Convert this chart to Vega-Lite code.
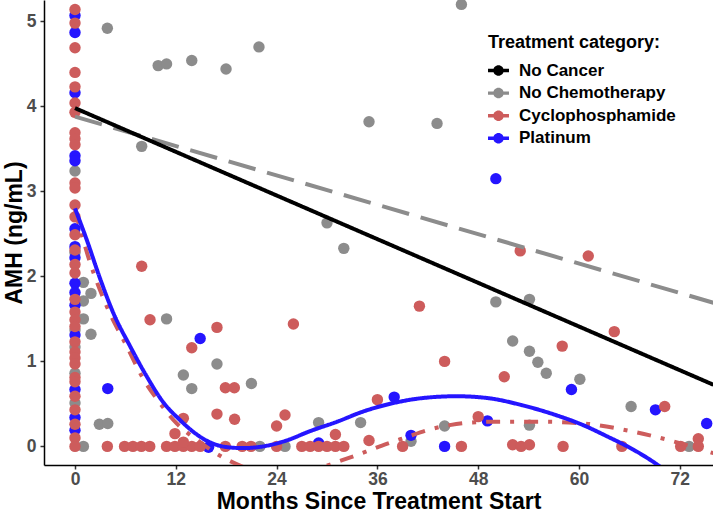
{
  "$schema": "https://vega.github.io/schema/vega-lite/v6.json",
  "width": 669,
  "height": 465,
  "autosize": {"type": "none"},
  "padding": {"left": 44, "top": 0, "right": 0, "bottom": 50},
  "background": "white",
  "config": {
    "view": {"stroke": null},
    "font": "Liberation Sans",
    "axis": {
      "grid": false,
      "domainColor": "black",
      "domainWidth": 1.5,
      "tickColor": "#333333",
      "tickWidth": 1.5,
      "tickSize": 4,
      "labelFont": "Liberation Sans",
      "labelFontWeight": "bold",
      "labelFontSize": 17.5,
      "labelColor": "#4d4d4d",
      "labelFlush": false,
      "titleFont": "Liberation Sans",
      "titleFontWeight": "bold",
      "titleFontSize": 23,
      "titleColor": "black"
    },
    "legend": {
      "orient": "none",
      "legendX": 444,
      "legendY": 34,
      "titleFont": "Liberation Sans",
      "titleFontSize": 18,
      "titleFontWeight": "bold",
      "titleColor": "black",
      "titlePadding": 8,
      "labelFont": "Liberation Sans",
      "labelFontSize": 17,
      "labelFontWeight": "bold",
      "labelColor": "black",
      "labelOffset": 10,
      "rowPadding": 3.6,
      "symbolType": "M -1 -0.16 L 1 -0.16 L 1 0.16 L -1 0.16 Z M 0.5 0 A 0.5 0.5 0 1 1 -0.5 0 A 0.5 0.5 0 1 1 0.5 0 Z",
      "symbolSize": 440,
      "symbolStrokeWidth": 0
    }
  },
  "datasets": {
    "pts": [
      {"m": 0, "amh": 3.24, "cat": "No Chemotherapy"},
      {"m": 0, "amh": 2.28, "cat": "No Chemotherapy"},
      {"m": 0, "amh": 1.37, "cat": "No Chemotherapy"},
      {"m": 0, "amh": 1.17, "cat": "No Chemotherapy"},
      {"m": 0, "amh": 0.86, "cat": "No Chemotherapy"},
      {"m": 0, "amh": 0.51, "cat": "No Chemotherapy"},
      {"m": 1, "amh": 1.93, "cat": "No Chemotherapy"},
      {"m": 1.9, "amh": 1.8, "cat": "No Chemotherapy"},
      {"m": 1, "amh": 1.71, "cat": "No Chemotherapy"},
      {"m": 1, "amh": 1.5, "cat": "No Chemotherapy"},
      {"m": 1.9, "amh": 1.32, "cat": "No Chemotherapy"},
      {"m": 1, "amh": 0, "cat": "No Chemotherapy"},
      {"m": 2.9, "amh": 0.26, "cat": "No Chemotherapy"},
      {"m": 3.9, "amh": 0.27, "cat": "No Chemotherapy"},
      {"m": 3.85, "amh": 4.92, "cat": "No Chemotherapy"},
      {"m": 7.94, "amh": 3.53, "cat": "No Chemotherapy"},
      {"m": 9.9, "amh": 4.48, "cat": "No Chemotherapy"},
      {"m": 10.9, "amh": 4.5, "cat": "No Chemotherapy"},
      {"m": 13.9, "amh": 4.54, "cat": "No Chemotherapy"},
      {"m": 17.98, "amh": 4.44, "cat": "No Chemotherapy"},
      {"m": 21.9, "amh": 4.7, "cat": "No Chemotherapy"},
      {"m": 10.9, "amh": 1.5, "cat": "No Chemotherapy"},
      {"m": 16.9, "amh": 0.97, "cat": "No Chemotherapy"},
      {"m": 12.9, "amh": 0.84, "cat": "No Chemotherapy"},
      {"m": 13.9, "amh": 0.68, "cat": "No Chemotherapy"},
      {"m": 21, "amh": 0.74, "cat": "No Chemotherapy"},
      {"m": 22, "amh": 0, "cat": "No Chemotherapy"},
      {"m": 25, "amh": 0, "cat": "No Chemotherapy"},
      {"m": 29, "amh": 0.28, "cat": "No Chemotherapy"},
      {"m": 34, "amh": 0.28, "cat": "No Chemotherapy"},
      {"m": 30, "amh": 2.63, "cat": "No Chemotherapy"},
      {"m": 32, "amh": 2.33, "cat": "No Chemotherapy"},
      {"m": 35, "amh": 3.82, "cat": "No Chemotherapy"},
      {"m": 43.1, "amh": 3.8, "cat": "No Chemotherapy"},
      {"m": 46, "amh": 5.2, "cat": "No Chemotherapy"},
      {"m": 40, "amh": 0.06, "cat": "No Chemotherapy"},
      {"m": 44, "amh": 0.24, "cat": "No Chemotherapy"},
      {"m": 50.1, "amh": 1.7, "cat": "No Chemotherapy"},
      {"m": 54.1, "amh": 1.73, "cat": "No Chemotherapy"},
      {"m": 52.1, "amh": 1.24, "cat": "No Chemotherapy"},
      {"m": 54.1, "amh": 1.12, "cat": "No Chemotherapy"},
      {"m": 55.1, "amh": 0.99, "cat": "No Chemotherapy"},
      {"m": 56.1, "amh": 0.86, "cat": "No Chemotherapy"},
      {"m": 60.1, "amh": 0.79, "cat": "No Chemotherapy"},
      {"m": 54.1, "amh": 0.25, "cat": "No Chemotherapy"},
      {"m": 66.2, "amh": 0.47, "cat": "No Chemotherapy"},
      {"m": 73.1, "amh": 0, "cat": "No Chemotherapy"},
      {"m": 0, "amh": 5.07, "cat": "Platinum"},
      {"m": 0, "amh": 4.87, "cat": "Platinum"},
      {"m": 0, "amh": 4.16, "cat": "Platinum"},
      {"m": 0, "amh": 3.42, "cat": "Platinum"},
      {"m": 0, "amh": 3.36, "cat": "Platinum"},
      {"m": 0, "amh": 2.56, "cat": "Platinum"},
      {"m": 0, "amh": 2.35, "cat": "Platinum"},
      {"m": 0, "amh": 2.22, "cat": "Platinum"},
      {"m": 0, "amh": 1.92, "cat": "Platinum"},
      {"m": 0, "amh": 1.81, "cat": "Platinum"},
      {"m": 0, "amh": 1.66, "cat": "Platinum"},
      {"m": 0, "amh": 1.31, "cat": "Platinum"},
      {"m": 0, "amh": 0.67, "cat": "Platinum"},
      {"m": 0, "amh": 0.34, "cat": "Platinum"},
      {"m": 0, "amh": 0.19, "cat": "Platinum"},
      {"m": 3.9, "amh": 0.68, "cat": "Platinum"},
      {"m": 14.9, "amh": 1.27, "cat": "Platinum"},
      {"m": 15.9, "amh": -0.01, "cat": "Platinum"},
      {"m": 29, "amh": 0.04, "cat": "Platinum"},
      {"m": 38, "amh": 0.58, "cat": "Platinum"},
      {"m": 40, "amh": 0.13, "cat": "Platinum"},
      {"m": 44, "amh": 0, "cat": "Platinum"},
      {"m": 49.1, "amh": 0.3, "cat": "Platinum"},
      {"m": 50.1, "amh": 3.15, "cat": "Platinum"},
      {"m": 59.1, "amh": 0.67, "cat": "Platinum"},
      {"m": 69.1, "amh": 0.43, "cat": "Platinum"},
      {"m": 75.2, "amh": 0.27, "cat": "Platinum"},
      {"m": 0, "amh": 5.14, "cat": "Cyclophosphamide"},
      {"m": 0, "amh": 4.98, "cat": "Cyclophosphamide"},
      {"m": 0, "amh": 4.69, "cat": "Cyclophosphamide"},
      {"m": 0, "amh": 4.4, "cat": "Cyclophosphamide"},
      {"m": 0, "amh": 4.23, "cat": "Cyclophosphamide"},
      {"m": 0, "amh": 4.04, "cat": "Cyclophosphamide"},
      {"m": 0, "amh": 3.93, "cat": "Cyclophosphamide"},
      {"m": 0, "amh": 3.69, "cat": "Cyclophosphamide"},
      {"m": 0, "amh": 3.62, "cat": "Cyclophosphamide"},
      {"m": 0, "amh": 3.55, "cat": "Cyclophosphamide"},
      {"m": 0, "amh": 3.1, "cat": "Cyclophosphamide"},
      {"m": 0, "amh": 3.04, "cat": "Cyclophosphamide"},
      {"m": 0, "amh": 2.84, "cat": "Cyclophosphamide"},
      {"m": 0, "amh": 2.7, "cat": "Cyclophosphamide"},
      {"m": 0, "amh": 2.49, "cat": "Cyclophosphamide"},
      {"m": 0, "amh": 2.31, "cat": "Cyclophosphamide"},
      {"m": 0, "amh": 2.14, "cat": "Cyclophosphamide"},
      {"m": 0, "amh": 2.04, "cat": "Cyclophosphamide"},
      {"m": 0, "amh": 1.73, "cat": "Cyclophosphamide"},
      {"m": 0, "amh": 1.58, "cat": "Cyclophosphamide"},
      {"m": 0, "amh": 1.49, "cat": "Cyclophosphamide"},
      {"m": 0, "amh": 1.41, "cat": "Cyclophosphamide"},
      {"m": 0, "amh": 1.23, "cat": "Cyclophosphamide"},
      {"m": 0, "amh": 1.11, "cat": "Cyclophosphamide"},
      {"m": 0, "amh": 1.04, "cat": "Cyclophosphamide"},
      {"m": 0, "amh": 0.97, "cat": "Cyclophosphamide"},
      {"m": 0, "amh": 0.81, "cat": "Cyclophosphamide"},
      {"m": 0, "amh": 0.76, "cat": "Cyclophosphamide"},
      {"m": 0, "amh": 0.59, "cat": "Cyclophosphamide"},
      {"m": 0, "amh": 0.43, "cat": "Cyclophosphamide"},
      {"m": 0, "amh": 0.26, "cat": "Cyclophosphamide"},
      {"m": 0, "amh": 0.1, "cat": "Cyclophosphamide"},
      {"m": 0, "amh": 0, "cat": "Cyclophosphamide"},
      {"m": 3.85, "amh": 0, "cat": "Cyclophosphamide"},
      {"m": 5.9, "amh": 0, "cat": "Cyclophosphamide"},
      {"m": 6.9, "amh": 0, "cat": "Cyclophosphamide"},
      {"m": 7.9, "amh": 0, "cat": "Cyclophosphamide"},
      {"m": 8.9, "amh": 0, "cat": "Cyclophosphamide"},
      {"m": 10.9, "amh": 0, "cat": "Cyclophosphamide"},
      {"m": 11.9, "amh": 0, "cat": "Cyclophosphamide"},
      {"m": 12.9, "amh": 0, "cat": "Cyclophosphamide"},
      {"m": 13.9, "amh": 0, "cat": "Cyclophosphamide"},
      {"m": 14.9, "amh": 0, "cat": "Cyclophosphamide"},
      {"m": 17.9, "amh": 0, "cat": "Cyclophosphamide"},
      {"m": 19.9, "amh": 0, "cat": "Cyclophosphamide"},
      {"m": 20.95, "amh": 0, "cat": "Cyclophosphamide"},
      {"m": 24, "amh": 0, "cat": "Cyclophosphamide"},
      {"m": 27, "amh": 0, "cat": "Cyclophosphamide"},
      {"m": 28, "amh": 0, "cat": "Cyclophosphamide"},
      {"m": 29, "amh": 0, "cat": "Cyclophosphamide"},
      {"m": 30, "amh": 0, "cat": "Cyclophosphamide"},
      {"m": 31, "amh": 0, "cat": "Cyclophosphamide"},
      {"m": 32, "amh": 0, "cat": "Cyclophosphamide"},
      {"m": 39, "amh": 0, "cat": "Cyclophosphamide"},
      {"m": 46, "amh": 0, "cat": "Cyclophosphamide"},
      {"m": 52.1, "amh": 0.02, "cat": "Cyclophosphamide"},
      {"m": 53.1, "amh": 0, "cat": "Cyclophosphamide"},
      {"m": 54.1, "amh": 0.02, "cat": "Cyclophosphamide"},
      {"m": 58.1, "amh": 0, "cat": "Cyclophosphamide"},
      {"m": 65.1, "amh": 0, "cat": "Cyclophosphamide"},
      {"m": 72.1, "amh": 0, "cat": "Cyclophosphamide"},
      {"m": 74.2, "amh": 0.09, "cat": "Cyclophosphamide"},
      {"m": 74.2, "amh": 0, "cat": "Cyclophosphamide"},
      {"m": 7.94, "amh": 2.12, "cat": "Cyclophosphamide"},
      {"m": 8.93, "amh": 1.49, "cat": "Cyclophosphamide"},
      {"m": 16.9, "amh": 1.4, "cat": "Cyclophosphamide"},
      {"m": 13.9, "amh": 1.16, "cat": "Cyclophosphamide"},
      {"m": 17.9, "amh": 0.69, "cat": "Cyclophosphamide"},
      {"m": 18.97, "amh": 0.69, "cat": "Cyclophosphamide"},
      {"m": 16.9, "amh": 0.38, "cat": "Cyclophosphamide"},
      {"m": 19, "amh": 0.32, "cat": "Cyclophosphamide"},
      {"m": 12.9, "amh": 0.33, "cat": "Cyclophosphamide"},
      {"m": 11.9, "amh": 0.15, "cat": "Cyclophosphamide"},
      {"m": 12.9, "amh": 0.05, "cat": "Cyclophosphamide"},
      {"m": 26, "amh": 1.44, "cat": "Cyclophosphamide"},
      {"m": 25, "amh": 0.37, "cat": "Cyclophosphamide"},
      {"m": 24, "amh": 0.24, "cat": "Cyclophosphamide"},
      {"m": 31, "amh": 0.14, "cat": "Cyclophosphamide"},
      {"m": 36, "amh": 0.55, "cat": "Cyclophosphamide"},
      {"m": 35, "amh": 0.07, "cat": "Cyclophosphamide"},
      {"m": 41, "amh": 1.65, "cat": "Cyclophosphamide"},
      {"m": 44, "amh": 1.0, "cat": "Cyclophosphamide"},
      {"m": 48, "amh": 0.35, "cat": "Cyclophosphamide"},
      {"m": 53, "amh": 2.3, "cat": "Cyclophosphamide"},
      {"m": 61.1, "amh": 2.24, "cat": "Cyclophosphamide"},
      {"m": 51.1, "amh": 0.82, "cat": "Cyclophosphamide"},
      {"m": 58, "amh": 1.18, "cat": "Cyclophosphamide"},
      {"m": 64.2, "amh": 1.35, "cat": "Cyclophosphamide"},
      {"m": 70.2, "amh": 0.47, "cat": "Cyclophosphamide"}
    ],
    "fits": [
      {"m": 0, "amh": 3.88, "cat": "No Chemotherapy"},
      {"m": 76, "amh": 1.69, "cat": "No Chemotherapy"},
      {"m": 0, "amh": 2.78, "cat": "Cyclophosphamide"},
      {"m": 1.8, "amh": 2.16, "cat": "Cyclophosphamide"},
      {"m": 3.77, "amh": 1.65, "cat": "Cyclophosphamide"},
      {"m": 6.15, "amh": 1.18, "cat": "Cyclophosphamide"},
      {"m": 8.1, "amh": 0.8, "cat": "Cyclophosphamide"},
      {"m": 10.1, "amh": 0.51, "cat": "Cyclophosphamide"},
      {"m": 12.1, "amh": 0.27, "cat": "Cyclophosphamide"},
      {"m": 14.9, "amh": 0.05, "cat": "Cyclophosphamide"},
      {"m": 16.3, "amh": -0.05, "cat": "Cyclophosphamide"},
      {"m": 18.2, "amh": -0.16, "cat": "Cyclophosphamide"},
      {"m": 20, "amh": -0.24, "cat": "Cyclophosphamide"},
      {"m": 22, "amh": -0.3, "cat": "Cyclophosphamide"},
      {"m": 24, "amh": -0.33, "cat": "Cyclophosphamide"},
      {"m": 26, "amh": -0.32, "cat": "Cyclophosphamide"},
      {"m": 28, "amh": -0.28, "cat": "Cyclophosphamide"},
      {"m": 29.2, "amh": -0.25, "cat": "Cyclophosphamide"},
      {"m": 31.9, "amh": -0.16, "cat": "Cyclophosphamide"},
      {"m": 34.7, "amh": -0.06, "cat": "Cyclophosphamide"},
      {"m": 37.1, "amh": 0.03, "cat": "Cyclophosphamide"},
      {"m": 39.5, "amh": 0.11, "cat": "Cyclophosphamide"},
      {"m": 41.9, "amh": 0.19, "cat": "Cyclophosphamide"},
      {"m": 44.6, "amh": 0.25, "cat": "Cyclophosphamide"},
      {"m": 47, "amh": 0.28, "cat": "Cyclophosphamide"},
      {"m": 50.2, "amh": 0.29, "cat": "Cyclophosphamide"},
      {"m": 55.4, "amh": 0.29, "cat": "Cyclophosphamide"},
      {"m": 60.5, "amh": 0.27, "cat": "Cyclophosphamide"},
      {"m": 66.1, "amh": 0.18, "cat": "Cyclophosphamide"},
      {"m": 71.2, "amh": 0.06, "cat": "Cyclophosphamide"},
      {"m": 76, "amh": -0.08, "cat": "Cyclophosphamide"},
      {"m": 0, "amh": 2.8, "cat": "Platinum"},
      {"m": 1.4, "amh": 2.43, "cat": "Platinum"},
      {"m": 3, "amh": 1.97, "cat": "Platinum"},
      {"m": 4.56, "amh": 1.57, "cat": "Platinum"},
      {"m": 6.55, "amh": 1.18, "cat": "Platinum"},
      {"m": 8.5, "amh": 0.83, "cat": "Platinum"},
      {"m": 10.5, "amh": 0.52, "cat": "Platinum"},
      {"m": 12.5, "amh": 0.31, "cat": "Platinum"},
      {"m": 14.5, "amh": 0.14, "cat": "Platinum"},
      {"m": 16.5, "amh": 0.03, "cat": "Platinum"},
      {"m": 18.2, "amh": -0.01, "cat": "Platinum"},
      {"m": 20, "amh": -0.02, "cat": "Platinum"},
      {"m": 22.4, "amh": 0.0, "cat": "Platinum"},
      {"m": 25.2, "amh": 0.07, "cat": "Platinum"},
      {"m": 28, "amh": 0.18, "cat": "Platinum"},
      {"m": 31.2, "amh": 0.29, "cat": "Platinum"},
      {"m": 34.3, "amh": 0.41, "cat": "Platinum"},
      {"m": 37.9, "amh": 0.51, "cat": "Platinum"},
      {"m": 41.5, "amh": 0.57, "cat": "Platinum"},
      {"m": 45.4, "amh": 0.59, "cat": "Platinum"},
      {"m": 49, "amh": 0.57, "cat": "Platinum"},
      {"m": 53.4, "amh": 0.48, "cat": "Platinum"},
      {"m": 57.5, "amh": 0.36, "cat": "Platinum"},
      {"m": 60.5, "amh": 0.25, "cat": "Platinum"},
      {"m": 63.3, "amh": 0.12, "cat": "Platinum"},
      {"m": 66.5, "amh": -0.04, "cat": "Platinum"},
      {"m": 68.5, "amh": -0.16, "cat": "Platinum"},
      {"m": 70.5, "amh": -0.3, "cat": "Platinum"},
      {"m": 73, "amh": -0.5, "cat": "Platinum"},
      {"m": 76, "amh": -0.75, "cat": "Platinum"},
      {"m": 0, "amh": 3.98, "cat": "No Cancer"},
      {"m": 76, "amh": 0.725, "cat": "No Cancer"}
    ]
  },
  "layer": [
    {
      "data": {"name": "pts"},
      "mark": {"type": "point", "filled": true, "size": 130, "opacity": 1, "clip": true},
      "encoding": {
        "x": {
          "field": "m", "type": "quantitative",
          "scale": {"domain": [-3.69, 75.95], "nice": false, "zero": false},
          "axis": {"values": [0, 12, 24, 36, 48, 60, 72], "format": "d", "title": "Months Since Treatment Start", "labelPadding": 1, "titlePadding": 3}
        },
        "y": {
          "field": "amh", "type": "quantitative",
          "scale": {"domain": [-0.219, 5.252], "nice": false, "zero": false},
          "axis": {"values": [0, 1, 2, 3, 4, 5], "format": "d", "title": "AMH (ng/mL)", "labelPadding": 4, "titlePadding": 0}
        },
        "color": {
          "field": "cat", "type": "nominal",
          "scale": {"domain": ["No Cancer", "No Chemotherapy", "Cyclophosphamide", "Platinum"], "range": ["black", "#8c8c8c", "#cd5c5c", "#2515ff"]},
          "legend": {"title": "Treatment category:"}
        }
      }
    },
    {
      "data": {"name": "fits"},
      "mark": {"type": "line", "strokeWidth": 4, "interpolate": "monotone", "clip": true},
      "encoding": {
        "x": {"field": "m", "type": "quantitative"},
        "y": {"field": "amh", "type": "quantitative"},
        "color": {"field": "cat", "type": "nominal", "legend": null},
        "strokeDash": {
          "field": "cat", "type": "nominal",
          "scale": {"domain": ["No Cancer", "No Chemotherapy", "Cyclophosphamide", "Platinum"], "range": [[1, 0], [28, 12], [14, 10, 4, 10], [1, 0]]},
          "legend": null
        }
      }
    }
  ]
}
